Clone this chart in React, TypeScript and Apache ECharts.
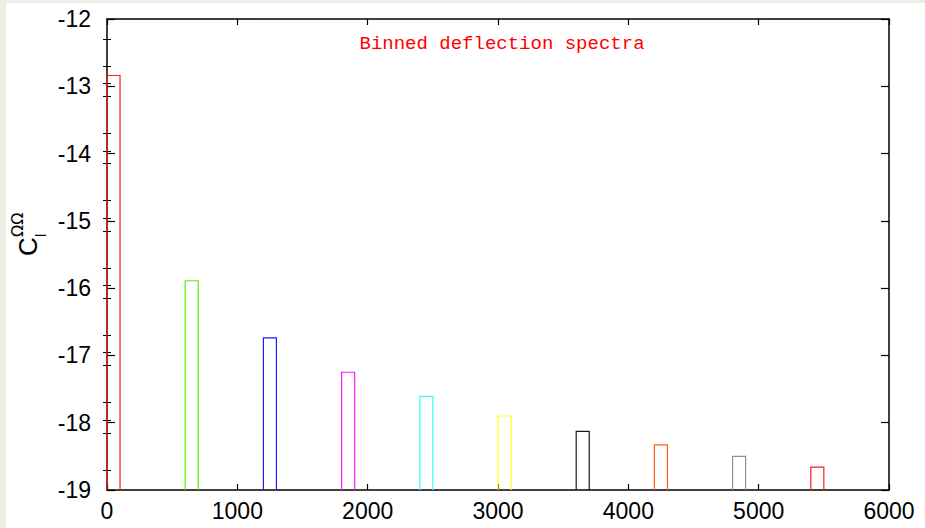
import React, { useEffect, useRef } from "react";
import * as echarts from "echarts";

// Multipole bins (l ranges) and the binned log10 deflection power in each
const binStarts = [0, 600, 1200, 1800, 2400, 3000, 3600, 4200, 4800, 5400];
const binEnds = [100, 700, 1300, 1900, 2500, 3100, 3700, 4300, 4900, 5500];
const binValues = [-12.84, -15.89, -16.74, -17.25, -17.61, -17.9, -18.13, -18.33, -18.5, -18.66];

// Axis ranges
const X_MIN = 0;
const X_MAX = 6000;
const X_STEP = 1000;
const Y_MIN = -19;
const Y_MAX = -12;
const Y_STEP = 1;

// Short ticks between the integer ticks of the ordinate
const yMinorTicks = [
  -12.3, -12.7, -12.96, -13.15, -13.7, -13.96, -14.15, -14.7, -14.96, -15.15,
  -15.7, -15.96, -16.15, -16.7, -16.96, -17.15, -17.7, -17.96, -18.15, -18.7,
];

const binColors = [
  "#ff1a1a",
  "#55ee00",
  "#1a1aff",
  "#ff1aff",
  "#33ffff",
  "#ffff1a",
  "#1a1a1a",
  "#ff5a1a",
  "#909090",
  "#ff1a1a",
];

const TITLE = "Binned deflection spectra";
const SANS = "'Liberation Sans', Arial, Helvetica, sans-serif";
const MONO = "'Liberation Mono', 'Courier New', monospace";

export default function App() {
  const ref = useRef<HTMLDivElement>(null);

  useEffect(() => {
    if (!ref.current) return;
    const chart = echarts.init(ref.current, null, { renderer: "svg" });

    const data = binStarts.map((s, i) => [s, binEnds[i], binValues[i]]);

    const frameLine = { show: true, onZero: false, lineStyle: { color: "#000", width: 1.5 } };
    const majorTick = (len: number) => ({
      show: true,
      inside: true,
      length: len,
      lineStyle: { color: "#000", width: 1.2 },
    });
    const minorTick = {
      show: true,
      inside: true,
      length: 4,
      customValues: yMinorTicks,
      lineStyle: { color: "#000", width: 1 },
    };
    const plain = (v: number) => String(v);

    const yBase = {
      type: "value",
      min: Y_MIN,
      max: Y_MAX,
      interval: Y_STEP,
      splitLine: { show: false },
    };
    const xBase = {
      type: "value",
      min: X_MIN,
      max: X_MAX,
      interval: X_STEP,
      splitLine: { show: false },
    };

    chart.setOption({
      animation: false,
      backgroundColor: "#ffffff",
      title: {
        text: TITLE,
        left: 491,
        top: 26,
        textAlign: "center",
        textStyle: {
          color: "#ff0000",
          fontFamily: MONO,
          fontSize: 19,
          fontWeight: "normal",
        },
      },
      grid: { left: 101, top: 16, width: 782, height: 471, containLabel: false },
      xAxis: [
        {
          ...xBase,
          position: "bottom",
          axisLine: frameLine,
          axisTick: majorTick(6),
          axisLabel: { color: "#000", fontSize: 23, fontFamily: SANS, margin: 9, formatter: plain },
        },
        {
          ...xBase,
          position: "top",
          axisLine: frameLine,
          axisTick: majorTick(6),
          axisLabel: { show: false },
        },
      ],
      yAxis: [
        {
          ...yBase,
          position: "left",
          axisLine: frameLine,
          axisTick: majorTick(8),
          axisLabel: { color: "#000", fontSize: 23, fontFamily: SANS, margin: 16, formatter: plain },
        },
        {
          ...yBase,
          position: "left",
          axisLine: { show: false },
          axisTick: minorTick,
          axisLabel: { show: false },
        },
        {
          ...yBase,
          position: "right",
          axisLine: frameLine,
          axisTick: majorTick(8),
          axisLabel: { show: false },
        },
        {
          ...yBase,
          position: "right",
          axisLine: { show: false },
          axisTick: minorTick,
          axisLabel: { show: false },
        },
      ],
      graphic: [
        {
          // ordinate name: C with stacked subscript l and superscript ΩΩ
          type: "group",
          x: 21.5,
          y: 253,
          rotation: Math.PI / 2,
          children: [
            {
              type: "text",
              x: 0,
              y: 0,
              style: {
                text: "C",
                fontSize: 26,
                fontFamily: SANS,
                fill: "#000",
                align: "left",
                verticalAlign: "middle",
              },
            },
            {
              type: "text",
              x: 19,
              y: 12.5,
              style: {
                text: "l",
                fontSize: 15,
                fontFamily: SANS,
                fill: "#000",
                align: "left",
                verticalAlign: "middle",
              },
            },
            {
              type: "text",
              x: 19,
              y: -10.5,
              style: {
                text: "ΩΩ",
                fontSize: 16,
                fontFamily: "'DejaVu Sans', sans-serif",
                fill: "#000",
                align: "left",
                verticalAlign: "middle",
              },
            },
          ],
        },
      ],
      series: [
        {
          type: "custom",
          xAxisIndex: 0,
          yAxisIndex: 0,
          encode: { x: [0, 1], y: 2 },
          data,
          renderItem: (params: any, api: any) => {
            const x0 = api.value(0);
            const x1 = api.value(1);
            const v = api.value(2);
            const top = api.coord([x0, v]);
            const base = api.coord([x1, Y_MIN]);
            return {
              type: "polyline",
              shape: {
                points: [
                  [top[0], base[1]],
                  [top[0], top[1]],
                  [base[0], top[1]],
                  [base[0], base[1]],
                ],
              },
              style: {
                stroke: binColors[params.dataIndex],
                fill: "none",
                lineWidth: 1.2,
              },
            };
          },
        },
      ],
    });

    return () => chart.dispose();
  }, []);

  return (
    <div
      style={{
        position: "fixed",
        left: 0,
        top: 0,
        width: 925,
        height: 528,
        background: "#eeeee6",
        overflow: "hidden",
      }}
    >
      <div
        ref={ref}
        style={{ position: "absolute", left: 6, top: 3, width: 919, height: 525 }}
      />
    </div>
  );
}
